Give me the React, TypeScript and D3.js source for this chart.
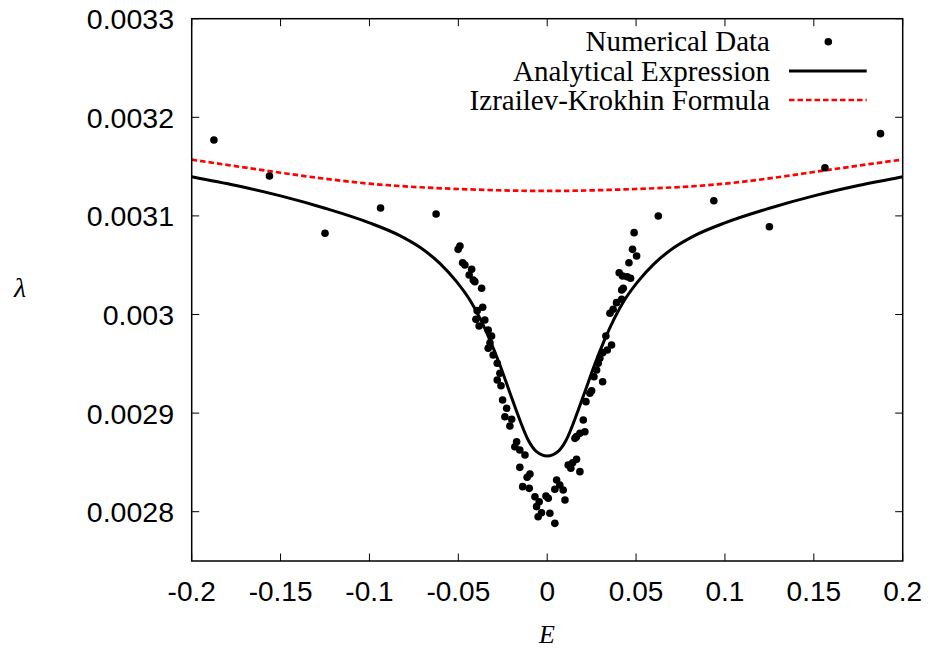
import React from "react";
import * as d3 from "d3";

const W = 930;
const H = 649;

// Numerical data (E, lambda)
const numE = [
  -0.1875, -0.15625, -0.125, -0.09375, -0.0625, 0.0625, 0.09375, 0.125, 0.15625, 0.1875,
  -0.0491, -0.0501, -0.0476, -0.0463, -0.0425, -0.0439, -0.0416, -0.0407, -0.0369, -0.0363,
  -0.0394, -0.0401, -0.0351, -0.0383, -0.0332, -0.0313, -0.0322, -0.0332, -0.0304, -0.0281,
  -0.0266, -0.0281, -0.026, -0.0251, -0.0228, -0.0238, -0.02, -0.021, -0.0172, -0.0182,
  -0.0154, -0.0125, -0.0154, -0.0097, -0.0113, -0.0138, -0.0101, -0.0069, -0.0045, -0.006,
  -0.0032, -0.0051, -0.0007, 0.0006, 0.0015, 0.0043,
  0.0053, 0.0071, 0.0043, 0.009, 0.01, 0.0118, 0.0133, 0.0143, 0.0165, 0.0184,
  0.0156, 0.0165, 0.0184, 0.0212, 0.0203, 0.0218, 0.024, 0.025, 0.0263, 0.0312,
  0.0278, 0.0287, 0.0296, 0.0312, 0.0338, 0.0362, 0.033, 0.0353, 0.0371, 0.039,
  0.0419, 0.0419, 0.0428, 0.0405, 0.0424, 0.045, 0.0469, 0.046, 0.0503, 0.048, 0.0489,
];
const numL = [
  0.003177, 0.0031405, 0.0030824, 0.003108, 0.0031019, 0.0030999, 0.0031154, 0.003089, 0.0031489, 0.0031834,
  0.0030695, 0.0030661, 0.0030525, 0.0030502, 0.0030458, 0.0030401, 0.003035, 0.0030333, 0.0030266, 0.0030073,
  0.0030039, 0.0029951, 0.0029944, 0.0029883, 0.0029843, 0.0029782, 0.0029714, 0.0029657, 0.0029589, 0.0029505,
  0.0029404, 0.0029336, 0.0029278, 0.0029133, 0.0029049, 0.0028963, 0.0028937, 0.0028869, 0.002871, 0.0028659,
  0.0028626, 0.0028575, 0.002845, 0.0028382, 0.0028349, 0.0028254, 0.0028237, 0.0028152, 0.0028101, 0.0028051,
  0.002799, 0.0027949, 0.0028159, 0.0028136, 0.0027984, 0.0027882,
  0.0028322, 0.0028271, 0.0028227, 0.002822, 0.0028119, 0.0028474, 0.002844, 0.0028497, 0.0028531, 0.0028406,
  0.0028744, 0.0028761, 0.0028795, 0.0028811, 0.002893, 0.0029116, 0.0029201, 0.0029227, 0.0029369, 0.0029318,
  0.0029437, 0.0029505, 0.0029556, 0.0029613, 0.002964, 0.0029691, 0.0029782, 0.0030012, 0.0030053, 0.003012,
  0.0030154, 0.0030249, 0.0030266, 0.0030424, 0.003039, 0.0030383, 0.0030367, 0.0030525, 0.0030593, 0.0030661, 0.003083,
];

// Analytical expression curve
const anaE = [
  -0.2, -0.175, -0.15, -0.125, -0.1, -0.0829, -0.0716, -0.0604, -0.051, -0.0435, -0.0378, -0.0322, -0.0266, -0.0209, -0.0154, -0.0107, -0.006, 0,
  0.006, 0.0107, 0.0154, 0.0209, 0.0266, 0.0322, 0.0378, 0.0435, 0.051, 0.0604, 0.0716, 0.0829, 0.1, 0.125, 0.15, 0.175, 0.2,
];
const anaL = [
  0.0031398, 0.0031308, 0.0031203, 0.0031078, 0.003093, 0.00308, 0.0030681, 0.0030519, 0.0030334, 0.0030147, 0.0029961, 0.0029741, 0.0029488, 0.0029201, 0.002893, 0.0028727, 0.0028609, 0.0028565,
  0.0028609, 0.0028727, 0.002893, 0.0029201, 0.0029488, 0.0029741, 0.0029961, 0.0030147, 0.0030334, 0.0030519, 0.0030681, 0.00308, 0.003093, 0.0031078, 0.0031203, 0.0031308, 0.0031398,
];

// Izrailev-Krokhin formula curve
const ikE = [-0.2, -0.15, -0.1, -0.05, 0, 0.05, 0.1, 0.15, 0.2];
const ikL = [0.003157, 0.0031438, 0.0031327, 0.0031273, 0.0031253, 0.0031273, 0.0031327, 0.0031445, 0.0031572];

const xTicks = [-0.2, -0.15, -0.1, -0.05, 0, 0.05, 0.1, 0.15, 0.2];
const xTickLabels = ["-0.2", "-0.15", "-0.1", "-0.05", "0", "0.05", "0.1", "0.15", "0.2"];
const yTicks = [0.0028, 0.0029, 0.003, 0.0031, 0.0032, 0.0033];
const yTickLabels = ["0.0028", "0.0029", "0.003", "0.0031", "0.0032", "0.0033"];

const legendLabels = ["Numerical Data", "Analytical Expression", "Izrailev-Krokhin Formula"];

export default function App() {
  const left = 191.7, right = 902.7, top = 18.7, bottom = 561;
  const x = d3.scaleLinear().domain([-0.2, 0.2]).range([left, right]);
  const y = d3.scaleLinear().domain([0.00275, 0.0033]).range([bottom, top]);

  const anaPath = d3
    .line<number>()
    .x((_, i) => x(anaE[i]))
    .y((d) => y(d))
    .curve(d3.curveMonotoneX)(anaL) || "";
  const ikPath = d3
    .line<number>()
    .x((_, i) => x(ikE[i]))
    .y((d) => y(d))
    .curve(d3.curveNatural)(ikL) || "";

  const tickLen = 7.5;
  const sans = "'Liberation Sans', Arial, sans-serif";
  const serif = "'Liberation Serif', 'Times New Roman', serif";
  const legRows = [41.7, 71, 100];
  const legTextX = 770;

  return (
    <svg width={W} height={H} style={{ position: "absolute", left: 0, top: 0, background: "#fff" }}>
      <rect x={0} y={0} width={W} height={H} fill="#fff" />
      <defs>
        <clipPath id="plot">
          <rect x={left} y={top} width={right - left} height={bottom - top} />
        </clipPath>
      </defs>
      {xTicks.map((t, i) => (
        <g key={"xt" + i}>
          <line x1={x(t)} x2={x(t)} y1={bottom} y2={bottom - tickLen} stroke="#000" strokeWidth={1} />
          <line x1={x(t)} x2={x(t)} y1={top} y2={top + tickLen} stroke="#000" strokeWidth={1} />
          <text x={x(t)} y={601} textAnchor="middle" fontFamily={sans} fontSize={28} fill="#000">
            {xTickLabels[i]}
          </text>
        </g>
      ))}
      {yTicks.map((t, i) => (
        <g key={"yt" + i}>
          <line x1={left} x2={left + tickLen} y1={y(t)} y2={y(t)} stroke="#000" strokeWidth={1} />
          <line x1={right} x2={right - tickLen} y1={y(t)} y2={y(t)} stroke="#000" strokeWidth={1} />
          <text x={174} y={y(t) + 10.5} textAnchor="end" fontFamily={sans} fontSize={28.5} fill="#000">
            {yTickLabels[i]}
          </text>
        </g>
      ))}
      <g clipPath="url(#plot)">
        <path d={ikPath} fill="none" stroke="#ff0000" strokeWidth={2.7} strokeDasharray="5.5,3" />
        <path d={anaPath} fill="none" stroke="#000" strokeWidth={3} />
        {numE.map((e, i) => (
          <circle key={"p" + i} cx={x(e)} cy={y(numL[i])} r={3.8} fill="#000" />
        ))}
      </g>
      <rect x={left} y={top} width={right - left} height={bottom - top} fill="none" stroke="#000" strokeWidth={1.5} />
      {legendLabels.map((l, i) => (
        <text key={"lg" + i} x={legTextX} y={legRows[i] + 9.5} textAnchor="end" fontFamily={serif} fontSize={29} fill="#000">
          {l}
        </text>
      ))}
      <circle cx={828.3} cy={legRows[0]} r={3.8} fill="#000" />
      <line x1={789} x2={866.7} y1={legRows[1]} y2={legRows[1]} stroke="#000" strokeWidth={3} />
      <line x1={789} x2={866.7} y1={legRows[2]} y2={legRows[2]} stroke="#ff0000" strokeWidth={2.7} strokeDasharray="5.5,3" />
      <text x={547} y={643} textAnchor="middle" fontFamily={serif} fontStyle="italic" fontSize={26} fill="#000">
        E
      </text>
      <text x={20} y={297} textAnchor="middle" fontFamily={serif} fontStyle="italic" fontSize={28} fill="#000">
        λ
      </text>
    </svg>
  );
}
